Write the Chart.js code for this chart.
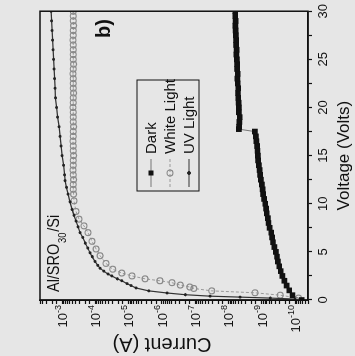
<!DOCTYPE html>
<html>
<head>
<meta charset="utf-8">
<script src="https://cdn.jsdelivr.net/npm/chart.js@4.4.1/dist/chart.umd.min.js"></script>
<style>
  html, body { margin: 0; padding: 0; background: #e6e6e6; overflow: hidden; }
  /* the figure is a scan turned a quarter turn: draw it upright, then rotate */
  #wrap { position: absolute; left: 0; top: 0; width: 356px; height: 355px;
          transform-origin: 0 0; transform: translate(0, 356px) rotate(-90deg); }
</style>
</head>
<body>
<div id="wrap"><canvas id="iv" width="356" height="355"></canvas></div>
<script>
// voltage (V) and current (A)
const darkV = [0, 0.5, 1, 1.5, 2, 2.5, 3, 3.5, 4, 4.5, 5, 5.5, 6, 6.5, 7, 7.5, 8, 8.5, 9, 9.5,
  10, 10.5, 11, 11.5, 12, 12.5, 13, 13.5, 14, 14.5, 15, 15.5, 16, 16.5, 17, 17.5,
  17.75, 18, 18.5, 19, 19.5, 20, 20.5, 21, 21.5, 22, 22.5, 23, 23.5, 24, 24.5, 25,
  25.5, 26, 26.5, 27, 27.5, 28, 28.5, 29, 29.5, 30];
const darkI = [6.3e-11, 1.2e-10, 1.5e-10, 1.8e-10, 2.1e-10, 2.4e-10, 2.7e-10, 3.0e-10, 3.3e-10, 3.5e-10,
  3.8e-10, 4.2e-10, 4.6e-10, 4.9e-10, 5.2e-10, 5.8e-10, 6.3e-10, 6.6e-10, 7.1e-10, 7.4e-10,
  7.9e-10, 8.5e-10, 9.1e-10, 9.5e-10, 1.0e-9, 1.07e-9, 1.12e-9, 1.17e-9, 1.23e-9, 1.29e-9,
  1.32e-9, 1.35e-9, 1.38e-9, 1.45e-9, 1.51e-9, 1.62e-9,
  4.9e-9, 4.8e-9, 4.7e-9, 4.6e-9, 4.9e-9, 4.9e-9, 5.0e-9, 5.1e-9, 5.2e-9, 5.1e-9, 5.3e-9,
  5.4e-9, 5.3e-9, 5.5e-9, 5.5e-9, 5.6e-9, 5.8e-9, 5.7e-9, 5.9e-9, 5.9e-9, 6.0e-9, 6.1e-9,
  6.2e-9, 6.1e-9, 6.3e-9, 6.3e-9];

const whiteV = [0.2, 0.5, 0.75, 0.95, 1.2, 1.35, 1.55, 1.8, 2.0, 2.2, 2.5, 2.8, 3.2, 3.8, 4.6,
  5.3, 6.1, 7.0, 7.7, 8.4, 9.2, 10.3, 11, 11.5, 12, 12.5, 13, 13.5, 14, 14.5, 15, 15.5, 16,
  16.5, 17, 17.5, 18, 18.5, 19, 19.5, 20, 20.5, 21, 21.5, 22, 22.5, 23, 23.5, 24, 24.5, 25,
  25.5, 26, 26.5, 27, 27.5, 28, 28.5, 29, 29.5, 30];
const whiteI = [7.9e-11, 2.8e-10, 1.6e-9, 3.2e-8, 1.1e-7, 1.45e-7, 2.8e-7, 5.0e-7, 1.15e-6, 3.2e-6,
  7.9e-6, 1.6e-5, 3.0e-5, 4.8e-5, 7.2e-5, 9.5e-5, 1.26e-4, 1.66e-4, 2.2e-4, 3.1e-4, 3.8e-4, 4.4e-4,
  4.5e-4, 4.6e-4, 4.6e-4, 4.5e-4, 4.6e-4, 4.7e-4, 4.6e-4, 4.6e-4, 4.5e-4, 4.6e-4, 4.6e-4,
  4.7e-4, 4.6e-4, 4.6e-4, 4.5e-4, 4.6e-4, 4.6e-4, 4.6e-4, 4.7e-4, 4.6e-4, 4.6e-4, 4.5e-4,
  4.6e-4, 4.6e-4, 4.6e-4, 4.7e-4, 4.6e-4, 4.5e-4, 4.6e-4, 4.6e-4, 4.6e-4, 4.6e-4, 4.7e-4,
  4.6e-4, 4.6e-4, 4.5e-4, 4.6e-4, 4.6e-4, 4.6e-4];

const uvV = [0.1, 0.2, 0.3, 0.4, 0.55, 0.73, 0.95, 1.25, 1.5, 1.7, 2.0, 2.2, 2.5, 2.7, 3.0, 3.3,
  3.6, 4.0, 4.5, 4.9, 5.4, 5.9, 6.5, 7.0, 7.6, 8.2, 8.8, 9.4, 10.2, 11, 11.7, 12.4, 13, 14, 15,
  16, 17, 18, 19, 20, 21, 22, 23, 24, 25, 26, 27, 28, 29, 30];
const uvI = [1.0e-10, 5.6e-10, 4.5e-9, 3.6e-8, 2.0e-7, 7.1e-7, 2.5e-6, 6.0e-6, 8.5e-6, 1.12e-5,
  1.6e-5, 2.2e-5, 3.2e-5, 4.2e-5, 5.6e-5, 7.2e-5, 8.5e-5, 1.02e-4, 1.25e-4, 1.45e-4, 1.7e-4,
  2.0e-4, 2.4e-4, 2.9e-4, 3.3e-4, 3.8e-4, 4.4e-4, 5.0e-4, 5.8e-4, 6.6e-4, 7.4e-4, 8.1e-4,
  8.4e-4, 9.0e-4, 1.0e-3, 1.07e-3, 1.15e-3, 1.23e-3, 1.36e-3, 1.46e-3, 1.58e-3, 1.62e-3,
  1.68e-3, 1.74e-3, 1.8e-3, 1.86e-3, 1.93e-3, 2.0e-3, 2.07e-3, 2.14e-3];

const seriesNames = ["Dark", "White Light", "UV Light"];
const currentDecades = [-3, -4, -5, -6, -7, -8, -9, -10];
const currentTitle = "Current (A)";
const sampleLabel = ["Al/SRO", "30", "/Si"];
const panelLabel = "b)";

const FONT = "'Liberation Sans', Arial, Helvetica, sans-serif";
Chart.defaults.font.family = FONT;
Chart.defaults.color = "#111";

function pairs(xs, ys) {
  return xs.map((x, i) => ({ x: x, y: ys[i] }));
}

// frame, decade labels, legend box and text notes
const decorations = {
  id: "decorations",
  afterDraw(chart) {
    const { ctx, chartArea: a, scales } = chart;
    ctx.save();
    ctx.strokeStyle = "#111";
    ctx.lineWidth = 1.5;
    ctx.strokeRect(a.left, a.top, a.right - a.left, a.bottom - a.top);

    ctx.fillStyle = "#111";
    ctx.textBaseline = "alphabetic";
    currentDecades.forEach((e) => {
      const py = scales.y.getPixelForValue(Math.pow(10, e));
      const exp = "-" + Math.abs(e);
      ctx.font = "13px " + FONT;
      const w10 = ctx.measureText("10").width;
      ctx.font = "9px " + FONT;
      const we = ctx.measureText(exp).width;
      const x0 = a.left - 5 - w10 - we;
      ctx.font = "13px " + FONT;
      ctx.fillText("10", x0, py + 4.7);
      ctx.font = "9px " + FONT;
      ctx.fillText(exp, x0 + w10, py - 1.5);
    });

    // current axis title, sits a little off centre in the scan
    ctx.save();
    ctx.translate(12.5, 162);
    ctx.rotate(-Math.PI / 2);
    ctx.textAlign = "center";
    ctx.textBaseline = "middle";
    ctx.font = "20px " + FONT;
    ctx.fillText(currentTitle, 0, 0);
    ctx.restore();

    // legend
    ctx.lineWidth = 1;
    ctx.strokeRect(165, 137, 111, 62);
    const rows = [151, 170, 189];
    chart.data.datasets.forEach((ds, i) => {
      const cy = rows[i];
      ctx.strokeStyle = ds.borderColor;
      ctx.lineWidth = 1;
      ctx.setLineDash(ds.borderDash || []);
      ctx.beginPath();
      ctx.moveTo(169, cy);
      ctx.lineTo(197, cy);
      ctx.stroke();
      ctx.setLineDash([]);
      ctx.beginPath();
      if (ds.pointStyle === "rect") {
        ctx.fillStyle = ds.pointBackgroundColor;
        ctx.fillRect(180.5, cy - 2.5, 5, 5);
      } else {
        ctx.arc(183, cy, ds.pointRadius, 0, Math.PI * 2);
        ctx.fillStyle = ds.pointBackgroundColor;
        ctx.fill();
        ctx.strokeStyle = ds.pointBorderColor;
        ctx.lineWidth = ds.pointBorderWidth;
        ctx.stroke();
      }
      ctx.fillStyle = "#111";
      ctx.font = "15px " + FONT;
      ctx.fillText(ds.label, 202, cy + 5.4);
    });

    // sample name, squeezed like the scan
    ctx.save();
    ctx.translate(64, 59);
    ctx.scale(0.85, 1);
    ctx.font = "17px " + FONT;
    ctx.fillText(sampleLabel[0], 0, 0);
    let w = ctx.measureText(sampleLabel[0]).width + 1;
    ctx.font = "11px " + FONT;
    ctx.fillText(sampleLabel[1], w, 7);
    w += ctx.measureText(sampleLabel[1]).width + 1;
    ctx.font = "17px " + FONT;
    ctx.fillText(sampleLabel[2], w, 0);
    ctx.restore();

    ctx.font = "bold 20px " + FONT;
    ctx.fillText(panelLabel, 318, 110);
    ctx.restore();
  },
};

new Chart(document.getElementById("iv"), {
  type: "line",
  data: {
    datasets: [
      {
        label: seriesNames[0],
        data: pairs(darkV, darkI),
        borderColor: "#777",
        borderWidth: 1,
        pointStyle: "rect",
        pointRadius: 4,
        pointBackgroundColor: "#111",
        pointBorderColor: "#111",
        pointBorderWidth: 0,
        order: 1,
      },
      {
        label: seriesNames[1],
        data: pairs(whiteV, whiteI),
        borderColor: "#9a9a9a",
        borderWidth: 1,
        borderDash: [3, 2],
        pointStyle: "circle",
        pointRadius: 3,
        pointBackgroundColor: "rgba(0,0,0,0)",
        pointBorderColor: "#8a8a8a",
        pointBorderWidth: 1.1,
        order: 2,
      },
      {
        label: seriesNames[2],
        data: pairs(uvV, uvI),
        borderColor: "#333",
        borderWidth: 1.2,
        pointStyle: "circle",
        pointRadius: 1.5,
        pointBackgroundColor: "#222",
        pointBorderColor: "#222",
        pointBorderWidth: 0,
        order: 0,
      },
    ],
  },
  options: {
    responsive: false,
    animation: false,
    devicePixelRatio: 1,
    layout: { padding: { top: 40, right: 10, left: 0, bottom: 0 } },
    plugins: { legend: { display: false }, tooltip: { enabled: false } },
    elements: { line: { tension: 0 } },
    scales: {
      x: {
        type: "linear",
        position: "bottom",
        min: 0,
        max: 30,
        afterFit: (s) => { s.height = 47; },
        ticks: {
          stepSize: 2.5,
          autoSkip: false,
          maxRotation: 0,
          padding: 4,
          font: { size: 13 },
          callback: (v) => (v % 5 === 0 ? v : ""),
        },
        grid: { drawOnChartArea: false, drawTicks: true, tickLength: 4, tickColor: "#111", tickWidth: 1.2 },
        border: { display: true, color: "#111", width: 1.5 },
        title: { display: true, text: "Voltage (Volts)", font: { size: 17 }, padding: { top: 0, bottom: 0 } },
      },
      y: {
        type: "logarithmic",
        position: "left",
        min: 4.1e-11,
        max: 4.6e-3,
        afterFit: (s) => { s.width = 56; },
        ticks: { display: false },
        grid: { drawOnChartArea: false, drawTicks: true, tickLength: 4, tickColor: "#111", tickWidth: 1.2 },
        border: { display: true, color: "#111", width: 1.5 },
        title: { display: false },
      },
    },
  },
  plugins: [decorations],
});
</script>
</body>
</html>
